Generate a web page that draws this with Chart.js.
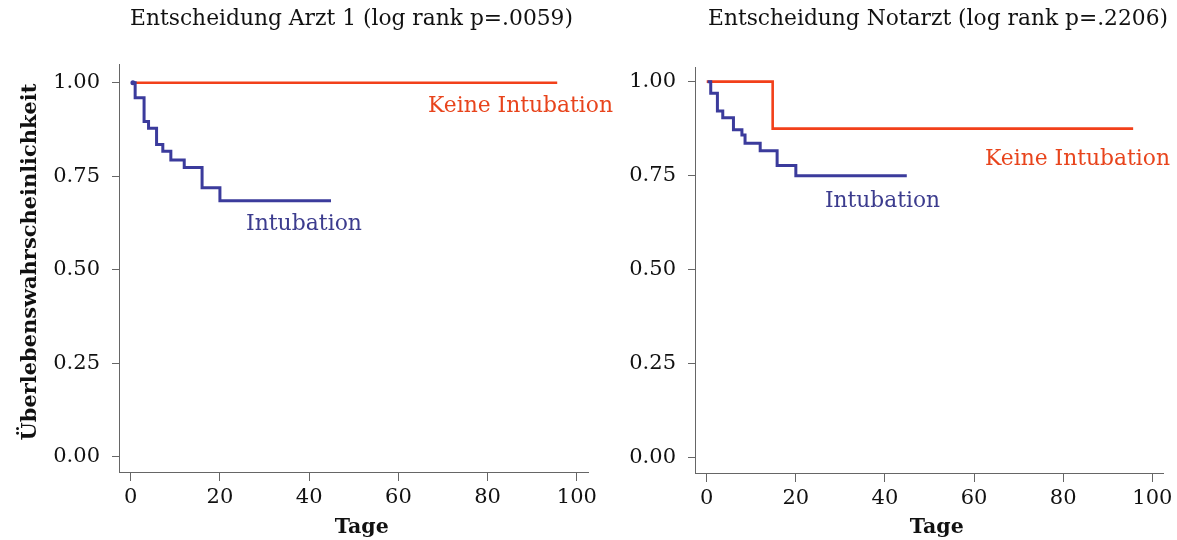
<!DOCTYPE html>
<html><head><meta charset="utf-8">
<script src="https://cdn.jsdelivr.net/npm/chart.js@4/dist/chart.umd.min.js"></script>
<style>
html,body{margin:0;padding:0;background:#fff;}
#wrap{position:relative;width:1177px;height:540px;background:#fff;}
.c{position:absolute;top:0;height:540px;}
</style></head><body>
<div id="wrap">
<div class="c" style="left:0;width:625px"><canvas id="c1"></canvas></div>
<div class="c" style="left:600px;width:577px"><canvas id="c2"></canvas></div>
</div>
<script>
// ---- data ----
const xTicks = [0, 20, 40, 60, 80, 100];
const yTicks = [0, 0.25, 0.5, 0.75, 1];
const panelTitles = ["Entscheidung Arzt 1 (log rank p=.0059)", "Entscheidung Notarzt (log rank p=.2206)"];
const seriesNames = ["Keine Intubation", "Intubation"];
const xTitle = "Tage";
const yTitle = "Überlebenswahrscheinlichkeit";

const arzt1KeineDays = [0.2, 95.6];
const arzt1KeineSurv = [1.0, 1.0];
const arzt1IntubDays = [0.5, 1.0, 3.0, 4.0, 5.8, 7.2, 9.0, 12.0, 16.0, 20.0, 44.9];
const arzt1IntubSurv = [1.0, 0.960, 0.896, 0.878, 0.835, 0.817, 0.793, 0.773, 0.719, 0.684, 0.684];

const notarztKeineDays = [0.0, 14.8, 95.7];
const notarztKeineSurv = [1.0, 0.875, 0.875];
const notarztIntubDays = [0.2, 0.9, 2.4, 3.6, 6.0, 7.9, 8.6, 12.0, 15.8, 20.0, 44.9];
const notarztIntubSurv = [1.0, 0.969, 0.922, 0.904, 0.872, 0.858, 0.836, 0.816, 0.777, 0.750, 0.750];

// ---- styles ----
const RED = '#f2401a';
const BLUE = '#3b3b9c';
const RED_TXT = '#e8441c';
const BLUE_TXT = '#3c3c8e';
const AXIS = '#666';
const FONT = '"DejaVu Serif", serif';

function pts(xs, ys) { return xs.map((x, i) => ({ x: x, y: ys[i] })); }

function drawFit(ctx, text, weight, targetW, cx, baseline, color, rotate) {
  ctx.save();
  ctx.font = weight + ' 20px ' + FONT;
  const w = ctx.measureText(text).width;
  const size = 20 * targetW / w;
  ctx.font = weight + ' ' + size.toFixed(2) + 'px ' + FONT;
  ctx.fillStyle = color;
  ctx.textAlign = 'center';
  ctx.textBaseline = 'alphabetic';
  if (rotate) {
    ctx.translate(baseline, cx);
    ctx.rotate(-Math.PI / 2);
    ctx.fillText(text, 0, 0);
  } else {
    ctx.fillText(text, cx, baseline);
  }
  ctx.restore();
}

function makeChart(id, cfg) {
  const textPlugin = {
    id: 'texts',
    afterDraw(chart) {
      const ctx = chart.ctx;
      cfg.texts.forEach(t => drawFit(ctx, t.text, t.weight || 'normal', t.w, t.cx, t.base, t.color, t.rot));
    }
  };
  return new Chart(document.getElementById(id), {
    type: 'scatter',
    data: {
      datasets: [
        { label: seriesNames[1], data: pts(cfg.intDays, cfg.intSurv), borderColor: BLUE, backgroundColor: BLUE,
          borderWidth: 3, showLine: true, stepped: true, fill: false,
          pointRadius: c => (cfg.startDot && c.dataIndex === 0) ? 2.5 : 0, pointBorderWidth: 0 },
        { label: seriesNames[0], data: pts(cfg.keineDays, cfg.keineSurv), borderColor: RED, backgroundColor: RED,
          borderWidth: 2.6, showLine: true, stepped: true, fill: false, pointRadius: 0 }
      ]
    },
    options: {
      responsive: true, maintainAspectRatio: false, animation: false,
      layout: { padding: { top: cfg.top, right: cfg.padRight, left: 0, bottom: 0 } },
      plugins: { legend: { display: false }, tooltip: { enabled: false }, title: { display: false } },
      scales: {
        x: {
          type: 'linear', min: cfg.xmin, max: cfg.xmax,
          afterBuildTicks: s => { s.ticks = xTicks.map(v => ({ value: v })); },
          afterFit: s => { s.height = 540 - cfg.bottom; s.paddingLeft = 0; s.paddingRight = 0; },
          grid: { drawOnChartArea: false, drawTicks: true, tickLength: 9, color: AXIS, lineWidth: 1 },
          border: { display: true, color: AXIS, width: 1 },
          ticks: { font: { family: FONT, size: 21 }, color: '#111', padding: 4, maxRotation: 0, autoSkip: false,
                   callback: v => String(v) }
        },
        y: {
          type: 'linear', min: cfg.ymin, max: cfg.ymax,
          afterBuildTicks: s => { s.ticks = yTicks.map(v => ({ value: v })); },
          afterFit: s => { s.width = cfg.left; s.paddingTop = 0; s.paddingBottom = 0; },
          grid: { drawOnChartArea: false, drawTicks: true, tickLength: 7, color: AXIS, lineWidth: 1 },
          border: { display: true, color: AXIS, width: 1 },
          ticks: { font: { family: FONT, size: 21 }, color: '#111', padding: 12, autoSkip: false,
                   callback: v => Number(v).toFixed(2) }
        }
      }
    },
    plugins: [textPlugin]
  });
}

makeChart('c1', {
  keineDays: arzt1KeineDays, keineSurv: arzt1KeineSurv, intDays: arzt1IntubDays, intSurv: arzt1IntubSurv,
  startDot: true,
  top: 64, bottom: 472, left: 119, padRight: 37,
  xmin: -2.62, xmax: 102.5, ymin: -0.041, ymax: 1.05,
  texts: [
    { text: panelTitles[0], w: 443, cx: 351.5, base: 25, color: '#111' },
    { text: seriesNames[0], w: 185, cx: 520.5, base: 112, color: RED_TXT },
    { text: seriesNames[1], w: 116, cx: 304, base: 230, color: BLUE_TXT },
    { text: xTitle, weight: 'bold', w: 54, cx: 361.7, base: 533, color: '#111' },
    { text: yTitle, weight: 'bold', w: 357, cx: 262, base: 36, color: '#111', rot: true }
  ]
});

makeChart('c2', {
  keineDays: notarztKeineDays, keineSurv: notarztKeineSurv, intDays: notarztIntubDays, intSurv: notarztIntubSurv,
  startDot: false,
  top: 67, bottom: 473, left: 95, padRight: 14,
  xmin: -2.63, xmax: 102.4, ymin: -0.041, ymax: 1.039,
  texts: [
    { text: panelTitles[1], w: 460, cx: 338, base: 25, color: '#111' },
    { text: seriesNames[0], w: 185, cx: 477.5, base: 165, color: RED_TXT },
    { text: seriesNames[1], w: 115, cx: 282.5, base: 206.7, color: BLUE_TXT },
    { text: xTitle, weight: 'bold', w: 54, cx: 336.7, base: 533, color: '#111' }
  ]
});
</script>
</body></html>
